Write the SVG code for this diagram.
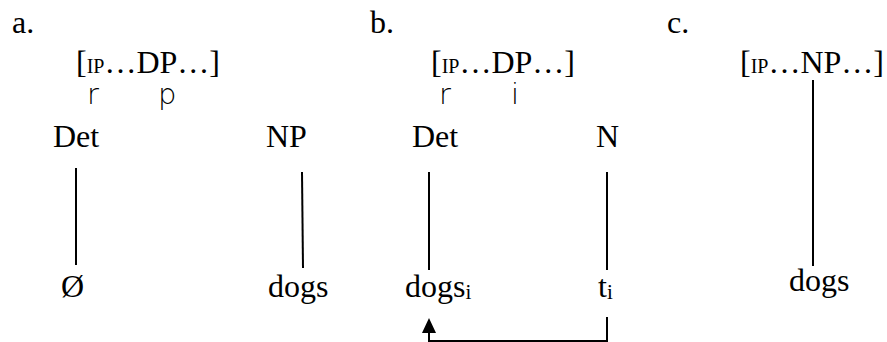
<svg xmlns="http://www.w3.org/2000/svg" width="887" height="342" viewBox="0 0 887 342">
  <style>
    .t{font-family:"Liberation Serif","Times New Roman",serif;font-size:32px;fill:#000}
    .sm{font-size:20px}
    .sub{font-size:21px}
    .g{font-family:"DejaVu Sans",sans-serif;font-weight:200;font-size:29px;fill:#000}
    .ln{stroke:#000;stroke-width:2;fill:none}
  </style>
  <defs>
    <marker id="head" viewBox="0 0 15 14" markerWidth="15" markerHeight="14" refX="0" refY="7" orient="auto" markerUnits="userSpaceOnUse">
      <path d="M0,0 L15,7 L0,14 z" fill="#000"/>
    </marker>
  </defs>

  <rect width="887" height="342" fill="#fff"/>

  <!-- panel labels -->
  <text class="t" x="12" y="33">a.</text>
  <text class="t" x="370" y="33">b.</text>
  <text class="t" x="667" y="33">c.</text>

  <!-- panel a -->
  <g id="a-ip">
    <text class="t" x="76" y="73">[<tspan class="sm">IP</tspan>…DP…]</text>
    <text class="g" x="87" y="104">r</text>
    <text class="g" x="158" y="104">p</text>
  </g>
  <g id="a-det"><text class="t" x="53" y="147">Det</text></g>
  <g id="a-np"><text class="t" x="266" y="147">NP</text></g>
  <g id="a-empty"><text class="t" x="61" y="297">Ø</text></g>
  <g id="a-dogs"><text class="t" x="268" y="297">dogs</text></g>

  <!-- panel b -->
  <g id="b-ip">
    <text class="t" x="431" y="73">[<tspan class="sm">IP</tspan>…DP…]</text>
    <text class="g" x="439" y="104">r</text>
    <text class="g" x="511" y="104">i</text>
  </g>
  <g id="b-det"><text class="t" x="412" y="147">Det</text></g>
  <g id="b-n"><text class="t" x="596" y="147">N</text></g>
  <g id="b-dogs"><text class="t" x="405" y="297">dogs<tspan class="sub" dy="2">i</tspan></text></g>
  <g id="b-trace"><text class="t" x="598" y="297">t<tspan class="sub" dy="2">i</tspan></text></g>

  <!-- panel c -->
  <g id="c-ip"><text class="t" x="740" y="73">[<tspan class="sm">IP</tspan>…NP…]</text></g>
  <g id="c-dogs"><text class="t" x="789" y="291">dogs</text></g>

  <!-- connectors -->
  <g id="connectors">
    <line class="ln" x1="76" y1="168" x2="76" y2="265"/>
    <line class="ln" x1="302" y1="172" x2="303" y2="268"/>
    <line class="ln" x1="429" y1="172" x2="429" y2="270"/>
    <line class="ln" x1="607" y1="172" x2="607" y2="270"/>
    <line class="ln" x1="813" y1="80" x2="813" y2="266"/>
    <path class="ln" d="M607,317 V341 H429 V333" marker-end="url(#head)"/>
  </g>
</svg>
